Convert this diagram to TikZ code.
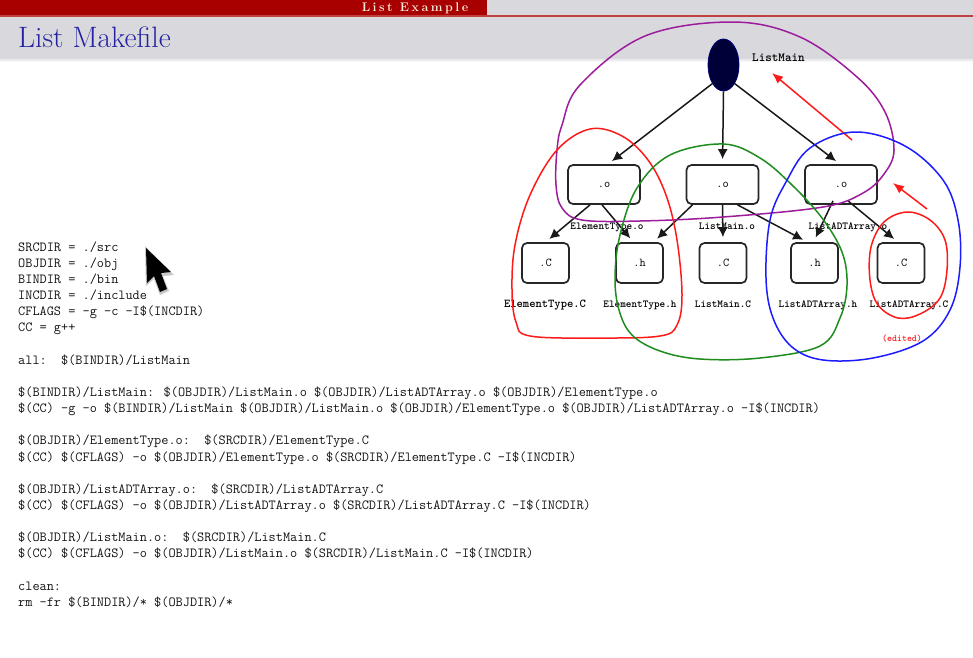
\documentclass[tikz,border=0pt]{standalone}
\usepackage{fontspec}
\usetikzlibrary{arrows.meta,shapes.geometric}
\newfontfamily\hdrfont[LetterSpace=20]{Latin Modern Roman}
\definecolor{hdrred}{HTML}{A80000}
\definecolor{hdrline}{HTML}{C04040}
\definecolor{band}{HTML}{D9D9DD}
\definecolor{titleblue}{HTML}{2222A0}
\definecolor{hdrtext}{HTML}{F6EADB}
\definecolor{codeink}{HTML}{141414}
\definecolor{navy}{HTML}{000038}
\definecolor{loopred}{HTML}{FF1A1A}
\definecolor{loopgreen}{HTML}{1E8C1E}
\definecolor{loopblue}{HTML}{1C1CFF}
\definecolor{loopviolet}{HTML}{9C1C9C}
\tikzset{
  code/.style={anchor=base west, inner sep=0pt, text=codeink,
    font=\fontsize{13.9}{16}\ttfamily},
  filebox/.style={draw=black!85, fill=white, rounded corners=5pt,
    line width=1.7pt, inner sep=0pt, font=\fontsize{12}{14}\ttfamily},
  objbox/.style={filebox, minimum width=72pt, minimum height=39pt},
  srcbox/.style={filebox, minimum width=47pt, minimum height=40pt},
  flabel/.style={anchor=base, inner sep=0pt, font=\fontsize{10.7}{12}\ttfamily\bfseries},
  dep/.style={-{Latex[length=10pt,width=10pt]}, line width=1.5pt, black!90, shorten >=5pt},
  note/.style={-{Latex[length=11pt,width=9pt]}, line width=1.5pt, loopred},
  group/.style={line width=1.5pt},
}
\begin{document}
\begin{tikzpicture}[x=1pt,y=-1pt]
\useasboundingbox (0,0) rectangle (973,657);
\fill[white] (0,0) rectangle (973,657);

% header bar and title band
\fill[band] (0,0) rectangle (973,58);
\fill[hdrred] (0,0) rectangle (487,14.5);
\fill[hdrline] (0,14.5) rectangle (973,16.5);
\shade[top color=band, bottom color=white] (0,57.5) rectangle (973,62);
\node[anchor=base, inner sep=0pt, text=hdrtext, font=\fontsize{12.5}{13}\hdrfont\bfseries]
  (hdr) at (415,11) {List Example};
\node[anchor=base west, inner sep=0pt, text=titleblue, font=\fontsize{29.5}{32}\selectfont]
  (title) at (18,47) {List Makefile};

% makefile listing
\node[code] (c1)  at (18,251.0) {SRCDIR = ./src};
\node[code] (c2)  at (18,267.1) {OBJDIR = ./obj};
\node[code] (c3)  at (18,283.3) {BINDIR = ./bin};
\node[code] (c4)  at (18,299.4) {INCDIR = ./include};
\node[code] (c5)  at (18,315.6) {CFLAGS = -g -c -I\$(INCDIR)};
\node[code] (c6)  at (18,331.7) {CC = g++};
\node[code] (c7)  at (18,364.0) {all:\ \ \$(BINDIR)/ListMain};
\node[code] (c8)  at (18,396.3) {\$(BINDIR)/ListMain: \$(OBJDIR)/ListMain.o \$(OBJDIR)/ListADTArray.o \$(OBJDIR)/ElementType.o};
\node[code] (c9)  at (18,412.5) {\$(CC) -g -o \$(BINDIR)/ListMain \$(OBJDIR)/ListMain.o \$(OBJDIR)/ElementType.o \$(OBJDIR)/ListADTArray.o -I\$(INCDIR)};
\node[code] (c10) at (18,444.8) {\$(OBJDIR)/ElementType.o:\ \ \$(SRCDIR)/ElementType.C};
\node[code] (c11) at (18,461.0) {\$(CC) \$(CFLAGS) -o \$(OBJDIR)/ElementType.o \$(SRCDIR)/ElementType.C -I\$(INCDIR)};
\node[code] (c12) at (18,493.2) {\$(OBJDIR)/ListADTArray.o:\ \ \$(SRCDIR)/ListADTArray.C};
\node[code] (c13) at (18,509.4) {\$(CC) \$(CFLAGS) -o \$(OBJDIR)/ListADTArray.o \$(SRCDIR)/ListADTArray.C -I\$(INCDIR)};
\node[code] (c14) at (18,541.7) {\$(OBJDIR)/ListMain.o:\ \ \$(SRCDIR)/ListMain.C};
\node[code] (c15) at (18,557.9) {\$(CC) \$(CFLAGS) -o \$(OBJDIR)/ListMain.o \$(SRCDIR)/ListMain.C -I\$(INCDIR)};
\node[code] (c16) at (18,590.2) {clean:};
\node[code] (c17) at (18,606.3) {rm -fr \$(BINDIR)/* \$(OBJDIR)/*};

% mouse pointer
\fill[black!35, opacity=0.6] (145,246) -- (146,286) -- (154,279) -- (160,295) -- (169,291) -- (163,276) -- (174,275) -- cycle;
\fill[black] (146,248) -- (147,283) -- (154,276) -- (160,292) -- (167,289) -- (161,273) -- (171,272) -- cycle;

% dependency graph
\node[ellipse, fill=navy, draw=navy!70!blue, line width=0.8pt,
  minimum width=31pt, minimum height=52pt, inner sep=0pt] (lm) at (723.5,65) {};
\node[anchor=base west, inner sep=0pt, font=\fontsize{12.5}{14}\ttfamily\bfseries]
  (lmlabel) at (752,61) {ListMain};

\node[objbox] (o1) at (604,184.5) {.o};
\node[objbox] (o2) at (722.5,184.5) {.o};
\node[objbox] (o3) at (841,184.5) {.o};
\node[flabel] (o1l) at (607,229) {ElementType.o};
\node[flabel] (o2l) at (727,229) {ListMain.o};
\node[flabel] (o3l) at (848,229) {ListADTArray.o};

\node[srcbox] (s1) at (545.5,263) {.C};
\node[srcbox] (s2) at (639.5,263) {.h};
\node[srcbox] (s3) at (723,263) {.C};
\node[srcbox] (s4) at (814.5,263) {.h};
\node[srcbox] (s5) at (901,263) {.C};
\node[flabel, font=\fontsize{12}{14}\ttfamily\bfseries] (s1l) at (545,307) {ElementType.C};
\node[flabel] (s2l) at (640,307) {ElementType.h};
\node[flabel] (s3l) at (723,307) {ListMain.C};
\node[flabel] (s4l) at (818,307) {ListADTArray.h};
\node[flabel] (s5l) at (909,307) {ListADTArray.C};
\node[anchor=base, inner sep=0pt, text=loopred, font=\fontsize{9.5}{11}\ttfamily\bfseries]
  (edited) at (902,341) {(edited)};

\draw[dep] (lm.south west) -- ([xshift=4pt]o1.north);
\draw[dep] (lm.south) -- (o2.north);
\draw[dep] (lm.south east) -- ([xshift=-1pt]o3.north);

\draw[dep] ([xshift=-14pt]o1.south) -- (s1.north);
\draw[dep] ([xshift=-2pt]o1.south) -- ([xshift=-6pt]s2.north);
\draw[dep] ([xshift=-30pt]o2.south) -- ([xshift=14pt]s2.north);
\draw[dep] (o2.south) -- (s3.north);
\draw[dep] ([xshift=15pt]o2.south) -- ([xshift=-7pt]s4.north);
\draw[dep] ([xshift=-8pt,yshift=4pt]o3.south) -- ([xshift=-1pt]s4.north);
\draw[dep] ([xshift=7pt,yshift=4pt]o3.south) -- ([xshift=-3pt]s5.north);

% change annotations
\coordinate (n1s) at (852,140);
\coordinate (n1e) at (772,73);
\coordinate (n2s) at (927,209);
\coordinate (n2e) at (893,183);
\draw[note] (n1s) -- (n1e);
\draw[note] (n2s) -- (n2e);

% rebuild groups
\draw[group, loopviolet] plot[smooth cycle, tension=0.6] coordinates {
  (733,22) (800,37) (857,77) (885,112) (894,150) (884,174) (863,193)
  (823,207) (723,217) (640,221) (582,220) (562,208) (556,185) (557,150)
  (562,125) (580,85) (645,36)};
\draw[group, loopred] plot[smooth cycle, tension=0.6] coordinates {
  (590,129) (622,136) (648,160) (666,195) (677,240) (682,295) (677,325)
  (660,336) (600,338) (530,336) (516,322) (512,290) (515,245) (530,195)
  (557,150)};
\draw[group, loopgreen] plot[smooth cycle, tension=0.6] coordinates {
  (723,144) (760,158) (792,185) (822,218) (842,252) (847,285) (840,318)
  (820,346) (760,358) (700,359) (660,351) (632,335) (619,310) (615,277)
  (620,235) (637,188) (670,155)};
\draw[group, loopblue] plot[smooth cycle, tension=0.6] coordinates {
  (855,132) (905,146) (943,180) (958,220) (960,267) (950,310) (923,341)
  (873,358) (823,360) (792,347) (773,318) (766,278) (770,220) (786,182)
  (810,148)};
\draw[group, loopred] plot[smooth cycle, tension=0.6] coordinates {
  (907,212) (930,220) (945,240) (947,270) (940,298) (920,314) (898,318)
  (878,305) (870,280) (871,247) (884,222)};
\end{tikzpicture}
\end{document}
